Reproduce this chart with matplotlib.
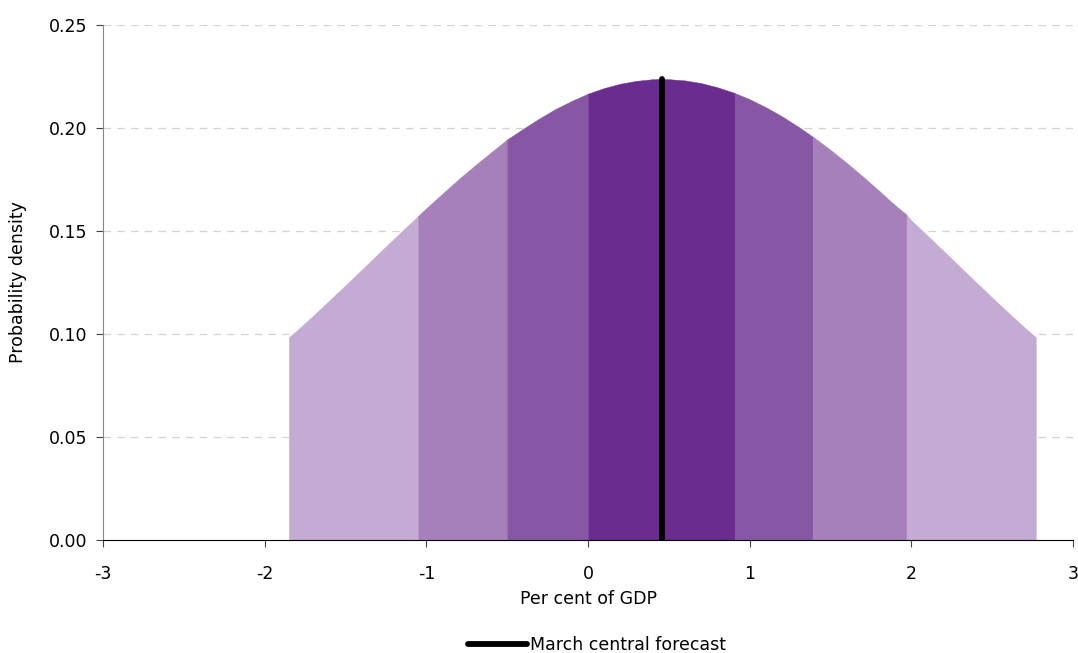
import numpy as np
import matplotlib
matplotlib.use("Agg")
import matplotlib.pyplot as plt

# Density curve (x in per cent of GDP, y probability density)
x_vals = [-1.85, -1.8, -1.7, -1.6, -1.5, -1.4, -1.3, -1.2, -1.1, -1.05, -1.0, -0.9, -0.8,
          -0.7, -0.6, -0.5, -0.4, -0.3, -0.2, -0.1, 0.0, 0.1, 0.2, 0.3, 0.4, 0.46, 0.5,
          0.6, 0.7, 0.8, 0.9, 0.91, 1.0, 1.1, 1.2, 1.3, 1.39, 1.4, 1.5, 1.6, 1.7, 1.8,
          1.9, 1.97, 2.0, 2.1, 2.2, 2.3, 2.4, 2.5, 2.6, 2.7, 2.77]
y_vals = [0.0985, 0.1018, 0.1089, 0.1163, 0.1237, 0.1312, 0.1388, 0.1463, 0.1537, 0.1574,
          0.1611, 0.1682, 0.1752, 0.1818, 0.1882, 0.1945, 0.1997, 0.2047, 0.2093, 0.2132,
          0.2167, 0.2194, 0.2215, 0.2229, 0.2237, 0.2238, 0.2237, 0.2231, 0.2218, 0.2198,
          0.2172, 0.2169, 0.2140, 0.2101, 0.2057, 0.2007, 0.1958, 0.1953, 0.1894, 0.1831,
          0.1765, 0.1696, 0.1625, 0.1580, 0.1552, 0.1478, 0.1403, 0.1327, 0.1252, 0.1177,
          0.1104, 0.1032, 0.0985]

# Fan band edges (deciles) and colours
band_edges = [-1.85, -1.05, -0.5, 0.0, 0.91, 1.39, 1.97, 2.77]
band_colors = ["#C4ABD3", "#A580BB", "#8757A6", "#6A2C8F", "#8757A6", "#A580BB", "#C4ABD3"]

central_forecast = 0.46
central_peak = 0.2238

x = np.array(x_vals)
y = np.array(y_vals)

fig = plt.figure(figsize=(10.78, 6.53), dpi=100)
ax = fig.add_axes([103/1078, 1 - 540/653, (1073 - 103)/1078, (540 - 25)/653])

for i, c in enumerate(band_colors):
    a, b = band_edges[i], band_edges[i + 1]
    m = (x >= a - 1e-9) & (x <= b + 1e-9)
    ax.fill_between(x[m], 0, y[m], facecolor=c, edgecolor=c, linewidth=0.3, zorder=2)

ax.plot([central_forecast, central_forecast], [0, central_peak], color="black",
        linewidth=4.2, solid_capstyle="round", zorder=3, label="March central forecast")

ax.set_xlim(-3, 3)
ax.set_ylim(0, 0.25)
ax.set_xticks([-3, -2, -1, 0, 1, 2, 3])
ax.set_xticklabels(["-3", "-2", "-1", "0", "1", "2", "3"])
ax.set_yticks([0, 0.05, 0.10, 0.15, 0.20, 0.25])
ax.set_yticklabels(["0.00", "0.05", "0.10", "0.15", "0.20", "0.25"])
ax.tick_params(axis="both", labelsize=12.5, direction="out", length=5, width=0.8,
               colors="#444444", labelcolor="black")
ax.tick_params(axis="x", pad=13)
ax.tick_params(axis="y", pad=6)

for yy in [0.05, 0.10, 0.15, 0.20, 0.25]:
    ax.axhline(yy, color="#D3D3D3", linestyle=(0, (6, 5)), linewidth=0.9, zorder=1)

for s in ["top", "right"]:
    ax.spines[s].set_visible(False)
ax.spines["left"].set_color("#888888")
ax.spines["bottom"].set_color("black")
ax.spines["bottom"].set_zorder(4)

ax.set_xlabel("Per cent of GDP", fontsize=12.5, labelpad=5)
ax.set_ylabel("Probability density", fontsize=12.5, labelpad=16)

leg = fig.legend(loc="center", bbox_to_anchor=(0.554, 0.012), frameon=False,
                 fontsize=12.5, handlelength=3.4, handletextpad=0.2)

fig.savefig("out.png", dpi=100)
